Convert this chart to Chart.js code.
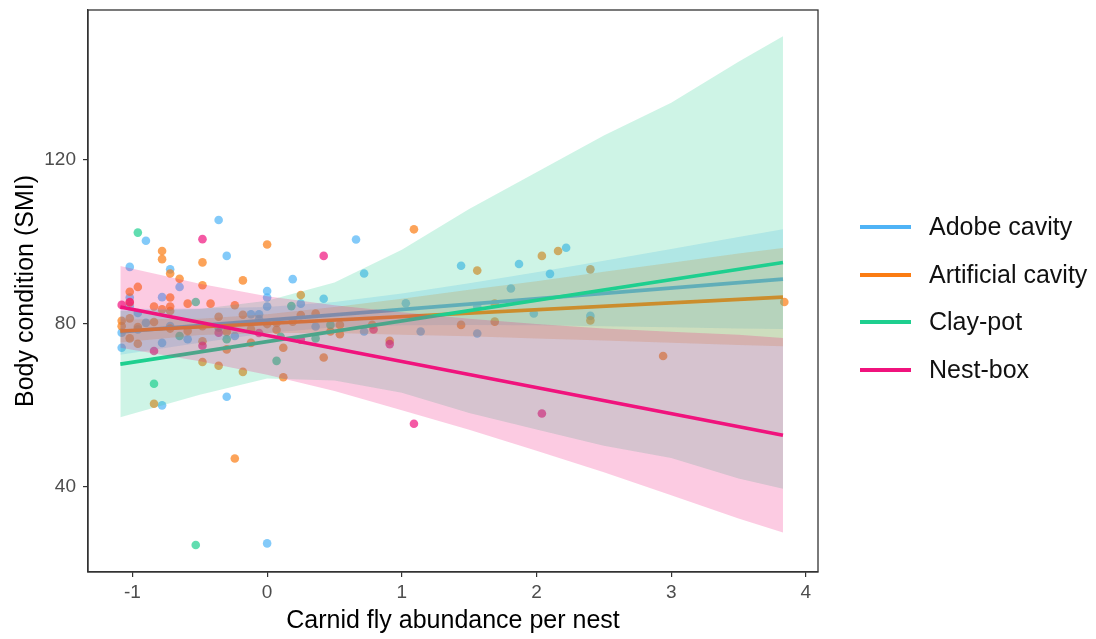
<!DOCTYPE html>
<html>
<head>
<meta charset="utf-8">
<title>Body condition vs carnid fly abundance</title>
<script src="https://cdn.jsdelivr.net/npm/chart.js@4.4.1/dist/chart.umd.min.js"></script>
<style>
  html, body { margin: 0; padding: 0; background: #fff; }
  #wrap { width: 1096px; height: 639px; }
</style>
</head>
<body>
<div id="wrap"><canvas id="smiChart" width="1096" height="639"></canvas></div>
<script>
const groups = ['Adobe cavity', 'Artificial cavity', 'Clay-pot', 'Nest-box'];
const groupColors = ['#4FB3F6', '#FB7C12', '#1ECF8F', '#F0137D'];

const xTicks = [-1, 0, 1, 2, 3, 4];
const yTicks = [40, 80, 120];

// nests (x = carnid flies, y = SMI)
const adobeX = [-0.36, -0.90, -1.02, -0.30, -0.72, -0.65, -0.78, -1.02, -1.02, -0.96, -0.90, -1.08, -1.08, -0.78, -0.72, -0.59, -0.24, -0.12, -0.06, -0.06, 0.00, 0.00, 0.00, 0.19, -0.78, -0.30, 0.00, 0.66, 0.72, 0.25, 0.42, 1.03, 0.36, 0.72, 1.14, 1.44, 1.56, 1.56, 1.87, 1.81, 2.10, 2.22, 1.98, 2.40, -0.96];
const adobeY = [105.3, 100.2, 93.8, 96.5, 93.2, 88.9, 86.4, 86.3, 84.2, 82.5, 80.1, 77.7, 74.0, 75.2, 79.3, 76.1, 76.9, 82.2, 82.2, 81.0, 87.9, 86.3, 84.1, 90.8, 59.9, 62.0, 26.1, 100.5, 92.2, 84.8, 86.0, 84.9, 79.2, 78.0, 78.0, 94.1, 84.1, 77.5, 94.5, 88.5, 92.1, 98.5, 82.4, 81.8, 78.5];

const artX = [0.00, -0.78, -0.78, -0.48, -0.72, -0.65, -0.18, -0.48, -0.96, -1.02, -0.72, -0.59, -0.42, -0.24, -1.02, -0.84, -0.72, -0.72, -0.78, -0.36, -0.18, -1.08, -1.08, -1.02, -0.84, -0.96, -0.48, -0.12, 0.00, 0.07, -0.30, -1.02, -0.72, -0.59, -0.96, -0.48, -0.12, -0.30, 0.12, -0.48, -0.36, -0.18, 0.12, -0.84, -0.24, 1.09, 0.25, 0.25, 0.36, 0.19, 0.54, 0.54, 0.47, 0.78, 0.42, 0.91, 1.44, 1.56, 1.69, 1.69, 2.04, 2.16, 2.40, 2.40, 2.94, 3.84, 0.07];
const artY = [99.3, 97.7, 95.7, 94.9, 92.2, 90.9, 90.5, 89.3, 88.9, 87.7, 86.3, 84.8, 84.8, 84.4, 85.1, 84.1, 84.1, 83.0, 83.4, 81.6, 82.1, 80.6, 79.3, 81.2, 80.3, 79.1, 79.3, 78.5, 79.8, 80.1, 77.9, 76.3, 78.7, 78.1, 75.0, 75.6, 75.2, 73.6, 74.0, 70.5, 69.6, 68.1, 66.8, 60.3, 46.9, 103.0, 86.9, 82.0, 82.4, 80.4, 79.6, 77.3, 78.0, 79.6, 71.6, 75.7, 79.6, 92.9, 84.8, 80.4, 96.5, 97.7, 93.2, 80.7, 72.0, 85.2, 78.4];

const clayX = [-0.96, -0.53, -0.65, -0.36, -0.30, 0.07, -0.84, 0.18, -0.53, 0.47, 0.36, 0.10];
const clayY = [102.2, 85.2, 76.9, 78.9, 76.1, 70.8, 65.2, 84.2, 25.7, 79.6, 76.3, 76.7];

const nestX = [-0.48, -1.08, -1.02, -0.84, -0.48, -0.36, -0.06, 0.42, 0.79, 0.91, 1.09, 2.04, 0.25];
const nestY = [100.6, 84.5, 85.2, 73.2, 74.5, 77.7, 77.6, 96.5, 78.5, 74.9, 55.4, 57.9, 76.0];

// fitted lines, ends only
const fitX = [-1.09, 3.83];
const adobeFit = [77.9, 90.8];
const artFit = [78.1, 86.4];
const clayFit = [70.0, 94.9];
const nestFit = [84.0, 52.6];

// confidence bands read along x
const bandX = [-1.09, -0.5, 0, 0.5, 1, 1.5, 2, 2.5, 3, 3.5, 3.83];
const adobeLow = [72.3, 75.2, 77.6, 79.0, 79.5, 79.6, 79.5, 79.3, 79.0, 78.7, 78.6];
const adobeHigh = [83.5, 83.6, 84.0, 85.2, 87.3, 89.8, 92.5, 95.3, 98.2, 101.1, 103.0];
const artLow = [75.3, 77.1, 77.6, 77.6, 77.2, 76.8, 76.3, 75.8, 75.2, 74.7, 74.4];
const artHigh = [80.9, 81.1, 82.2, 84.0, 86.0, 88.2, 90.3, 92.6, 94.8, 97.1, 98.4];
const clayLow = [57.0, 62.5, 66.5, 66.0, 63.0, 58.0, 54.0, 50.0, 47.0, 42.0, 39.5];
const clayHigh = [83.0, 83.5, 85.5, 90.0, 98.0, 108.0, 117.0, 126.0, 134.0, 144.0, 150.3];
const nestLow = [74.0, 70.7, 67.4, 63.4, 58.7, 53.9, 48.8, 43.5, 37.9, 32.2, 28.8];
const nestHigh = [94.0, 89.7, 86.6, 84.4, 82.7, 81.1, 79.8, 78.7, 77.9, 77.2, 76.4];

const FONT = "'Liberation Sans', Arial, sans-serif";

function toPts(xs, ys) {
    return xs.map((x, i) => ({ x: x, y: ys[i] }));
}

function rgba(hex, a) {
    const n = parseInt(hex.slice(1), 16);
    return 'rgba(' + (n >> 16) + ',' + ((n >> 8) & 255) + ',' + (n & 255) + ',' + a + ')';
}

document.addEventListener('DOMContentLoaded', () => {
    const pointSets = [[adobeX, adobeY], [artX, artY], [clayX, clayY], [nestX, nestY]];
    const fits = [adobeFit, artFit, clayFit, nestFit];
    const bands = [[adobeLow, adobeHigh], [artLow, artHigh], [clayLow, clayHigh], [nestLow, nestHigh]];

    const datasets = [];

    // points go under everything
    pointSets.forEach((p, i) => {
        datasets.push({
            label: groups[i],
            data: toPts(p[0], p[1]),
            backgroundColor: rgba(groupColors[i], 0.7),
            borderWidth: 0,
            pointRadius: 4.3,
            showLine: false,
            order: 20 - i
        });
    });

    // ribbon then line, group after group like ggplot
    bands.forEach((b, i) => {
        datasets.push({
            label: groups[i] + ' upper',
            data: toPts(bandX, b[1]),
            showLine: true,
            borderColor: 'transparent',
            borderWidth: 0,
            pointRadius: 0,
            backgroundColor: rgba(groupColors[i], 0.22),
            fill: '+1',
            order: 10 - 2 * i
        });
        datasets.push({
            label: groups[i] + ' lower',
            data: toPts(bandX, b[0]),
            showLine: true,
            borderColor: 'transparent',
            borderWidth: 0,
            pointRadius: 0,
            fill: false,
            order: 10 - 2 * i
        });
        datasets.push({
            label: groups[i] + ' fit',
            data: toPts(fitX, fits[i]),
            showLine: true,
            borderColor: groupColors[i],
            borderWidth: 3.6,
            pointRadius: 0,
            fill: false,
            order: 9 - 2 * i
        });
    });

    const frameAndLegend = {
        id: 'frameAndLegend',
        afterDraw(chart) {
            const c = chart.ctx;
            const a = chart.chartArea;
            c.save();
            c.strokeStyle = '#333';
            c.lineWidth = 1.3;
            c.strokeRect(a.left, a.top, a.right - a.left, a.bottom - a.top);

            const legendY = [227, 275, 322, 370];
            c.font = '25px ' + FONT;
            c.textBaseline = 'middle';
            c.textAlign = 'left';
            groups.forEach((g, i) => {
                c.strokeStyle = groupColors[i];
                c.lineWidth = 4;
                c.beginPath();
                c.moveTo(860, legendY[i]);
                c.lineTo(911, legendY[i]);
                c.stroke();
                c.fillStyle = '#111';
                c.fillText(g, 929, legendY[i] + 1);
            });
            c.restore();
        }
    };

    const ctx = document.getElementById('smiChart').getContext('2d');
    window.smiChart = new Chart(ctx, {
        type: 'scatter',
        data: { datasets: datasets },
        options: {
            responsive: false,
            animation: false,
            devicePixelRatio: 1,
            layout: { padding: { top: 10, right: 278, bottom: 0, left: 0 } },
            plugins: {
                legend: { display: false },
                tooltip: { enabled: false }
            },
            scales: {
                x: {
                    type: 'linear',
                    min: -1.33,
                    max: 4.09,
                    afterBuildTicks: (s) => { s.ticks = xTicks.map(v => ({ value: v })); },
                    afterFit: (s) => { s.height = 67; s.paddingLeft = 0; s.paddingRight = 0; },
                    grid: { drawOnChartArea: false, drawTicks: true, tickLength: 5, color: '#333', lineWidth: 1.2 },
                    border: { display: true, color: '#333', width: 1.3 },
                    ticks: { color: '#4D4D4D', font: { family: FONT, size: 19 }, padding: 4, maxRotation: 0 },
                    title: {
                        display: true,
                        text: 'Carnid fly abundance per nest',
                        color: '#000',
                        font: { family: FONT, size: 25 },
                        padding: { top: 0, bottom: 3 }
                    }
                },
                y: {
                    type: 'linear',
                    min: 19.1,
                    max: 156.7,
                    afterBuildTicks: (s) => { s.ticks = yTicks.map(v => ({ value: v })); },
                    afterFit: (s) => { s.width = 88; s.paddingTop = 0; s.paddingBottom = 0; },
                    grid: { drawOnChartArea: false, drawTicks: true, tickLength: 5, color: '#333', lineWidth: 1.2 },
                    border: { display: true, color: '#333', width: 1.3 },
                    ticks: { color: '#4D4D4D', font: { family: FONT, size: 19 }, padding: 7 },
                    title: {
                        display: true,
                        text: 'Body condition (SMI)',
                        color: '#000',
                        font: { family: FONT, size: 25 },
                        padding: { top: 11, bottom: 0 }
                    }
                }
            }
        },
        plugins: [frameAndLegend]
    });
});
</script>
</body>
</html>
